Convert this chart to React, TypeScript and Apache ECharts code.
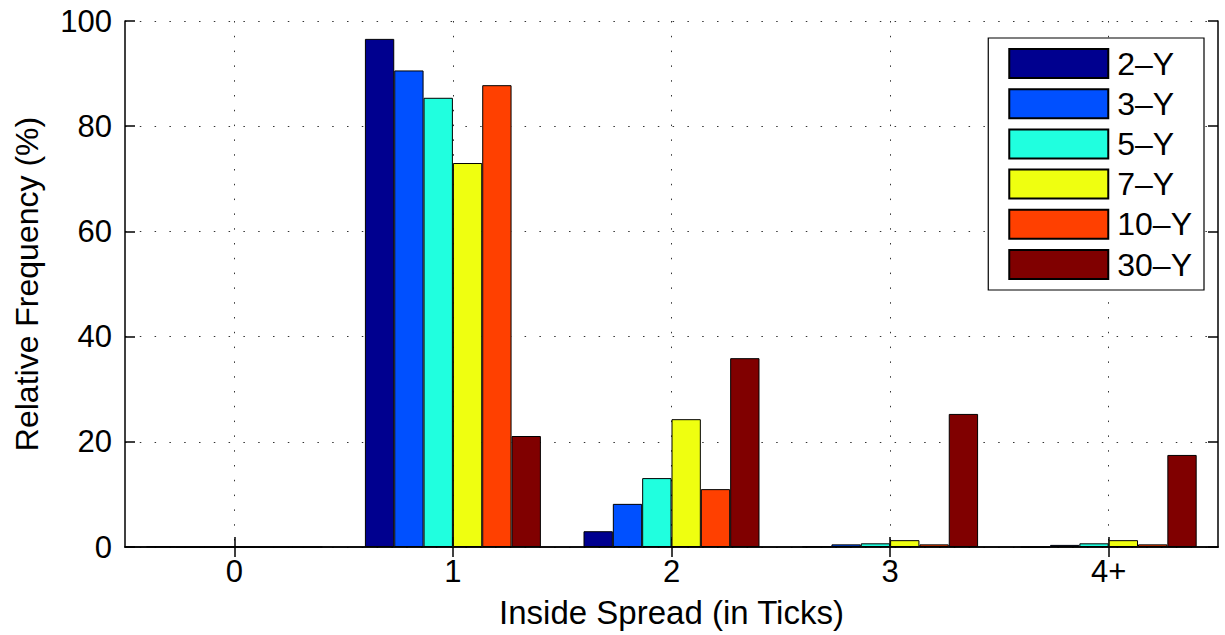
import React, { useEffect, useRef } from "react";
import * as echarts from "echarts";

const categories = ["0", "1", "2", "3", "4+"];
const seriesNames = ["2–Y", "3–Y", "5–Y", "7–Y", "10–Y", "30–Y"];
const seriesColors = ["#00008F", "#0050FF", "#20FFDF", "#EFFF10", "#FF4000", "#800000"];
const y2 = [0.1, 96.6, 3.0, 0.1, 0];
const y3 = [0, 90.6, 8.2, 0.5, 0.4];
const y5 = [0, 85.4, 13.1, 0.7, 0.7];
const y7 = [0, 73.0, 24.3, 1.3, 1.3];
const y10 = [0, 87.8, 11.0, 0.5, 0.5];
const y30 = [0, 21.1, 35.9, 25.3, 17.5];
const seriesValues = [y2, y3, y5, y7, y10, y30];
const yTicks = { min: 0, max: 100, interval: 20 };

const FONT = "'Liberation Sans', Arial, Helvetica, sans-serif";

export default function App() {
  const ref = useRef<HTMLDivElement>(null);
  useEffect(() => {
    if (!ref.current) return;
    const chart = echarts.init(ref.current, undefined, { renderer: "svg" });
    const gridDots = { color: "#333", width: 1, type: [1.5, 13.3] as any };
    chart.setOption({
      animation: false,
      backgroundColor: "#fff",
      textStyle: { fontFamily: FONT },
      grid: { left: 125, right: 7, top: 21, bottom: 88, containLabel: false, outerBoundsMode: "none" },
      legend: {
        orient: "vertical",
        right: 21,
        top: 38,
        itemWidth: 99,
        itemHeight: 29,
        itemGap: 8.2,
        padding: [9.5, 12, 9.5, 20],
        backgroundColor: "#fff",
        borderColor: "#000",
        borderWidth: 1.2,
        borderRadius: 0,
        icon: "rect",
        textStyle: { fontSize: 32, color: "#000", fontFamily: FONT, padding: [0, 0, 0, 4] },
        data: seriesNames,
      },
      xAxis: [
        {
          type: "category",
          data: categories,
          boundaryGap: true,
          position: "bottom",
          name: "Inside Spread (in Ticks)",
          nameLocation: "middle",
          nameGap: 49,
          nameMoveOverlap: false,
          nameTextStyle: { fontSize: 33, color: "#000", fontFamily: FONT },
          axisLine: { show: true, lineStyle: { color: "#000", width: 1.5 } },
          axisTick: { show: true, inside: true, alignWithLabel: true, length: 10, lineStyle: { color: "#000", width: 1.5 } },
          axisLabel: { fontSize: 31, color: "#000", margin: 9, fontFamily: FONT },
          splitLine: { show: true, alignWithLabel: true, lineStyle: gridDots },
        },
        {
          type: "category",
          data: categories,
          boundaryGap: true,
          position: "top",
          axisLine: { show: true, lineStyle: { color: "#000", width: 1.5 } },
          axisTick: { show: true, inside: true, alignWithLabel: true, length: 10, lineStyle: { color: "#000", width: 1.5 } },
          axisLabel: { show: false },
          splitLine: { show: false },
        },
      ],
      yAxis: [
        {
          type: "value",
          ...yTicks,
          position: "left",
          name: "Relative Frequency (%)",
          nameLocation: "middle",
          nameGap: 82,
          nameMoveOverlap: false,
          nameTextStyle: { fontSize: 32, color: "#000", fontFamily: FONT },
          axisLine: { show: true, lineStyle: { color: "#000", width: 1.5 } },
          axisTick: { show: true, inside: true, length: 10, lineStyle: { color: "#000", width: 1.5 } },
          axisLabel: { fontSize: 31, color: "#000", margin: 13, fontFamily: FONT },
          splitLine: { show: true, lineStyle: gridDots },
        },
        {
          type: "value",
          ...yTicks,
          position: "right",
          axisLine: { show: true, lineStyle: { color: "#000", width: 1.5 } },
          axisTick: { show: true, inside: true, length: 10, lineStyle: { color: "#000", width: 1.5 } },
          axisLabel: { show: false },
          splitLine: { show: false },
        },
      ],
      series: seriesNames.map((name, i) => ({
        name,
        type: "bar",
        xAxisIndex: 0,
        yAxisIndex: 0,
        data: seriesValues[i],
        barGap: "0%",
        barCategoryGap: "19.5%",
        itemStyle: { color: seriesColors[i], borderColor: "#000", borderWidth: 1 },
        emphasis: { disabled: true },
      })),
    });
    return () => chart.dispose();
  }, []);
  return (
    <div
      ref={ref}
      style={{ position: "fixed", left: 0, top: 0, width: 1225, height: 635 }}
    />
  );
}
